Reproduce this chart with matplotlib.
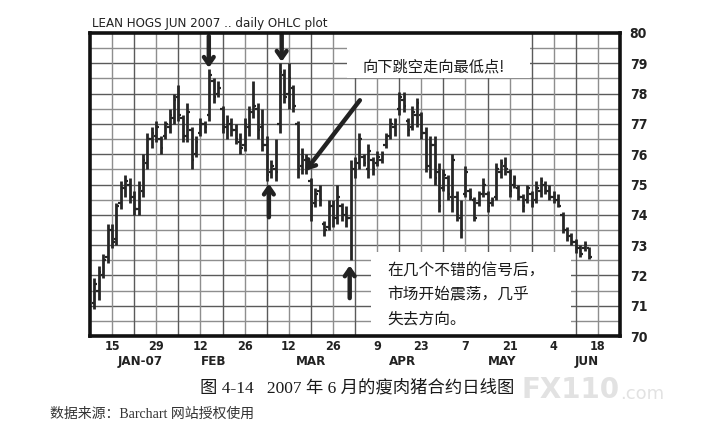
import numpy as np
import pandas as pd
import matplotlib
matplotlib.use("Agg")
import matplotlib.pyplot as plt
from matplotlib.patches import Rectangle

# ---------------- data ----------------
title = "LEAN HOGS JUN 2007 .. daily OHLC plot"
first_bar = "2007-01-09"
calendar_start = "2007-01-08"

highs = [71.9, 72.3, 72.7, 73.7, 73.7, 74.4, 75.1, 75.3, 75.2, 74.8,
         75.1, 76.0, 76.7, 76.9, 77.1, 76.6, 77.1, 77.5, 78.0, 78.3,
         77.3, 77.7, 76.9, 76.6, 77.2, 77.1, 78.8, 78.5, 78.4, 77.6,
         77.3, 77.2, 77.0, 76.7, 77.2, 77.6, 78.4, 77.7, 77.5, 76.6,
         75.8, 76.5, 79.0, 78.8, 79.0, 78.3, 77.1, 76.2, 76.0, 75.2,
         74.9, 75.0, 73.8, 74.5, 74.5, 75.0, 74.4, 74.3, 75.8, 75.9,
         76.7, 76.0, 76.35, 75.9, 76.1, 76.1, 76.7, 77.2, 77.2, 78.05,
         78.05, 77.2, 77.6, 77.85, 77.4, 76.9, 76.6, 76.6, 75.7, 75.5,
         75.3, 76.0, 74.8, 74.5, 75.6, 74.9, 74.6, 74.8, 75.2, 74.8,
         74.6, 75.7, 75.85, 75.9, 75.5, 75.3, 74.97, 74.7, 75.0, 74.8,
         75.1, 75.25, 75.1, 74.97, 74.8, 74.7, 74.1, 73.6, 73.4, 73.2,
         73.0, 73.15, 72.95]
lows = [70.9, 71.2, 71.9, 72.4, 72.9, 73.0, 74.2, 74.6, 74.4, 74.0,
        74.0, 74.6, 75.5, 76.2, 76.4, 76.0, 76.5, 76.7, 77.0, 77.1,
        76.4, 76.4, 75.5, 75.9, 76.6, 76.7, 77.1, 77.7, 77.9, 76.7,
        76.5, 76.6, 76.35, 76.0, 76.1, 76.6, 77.2, 76.5, 76.1, 75.1,
        75.2, 75.1, 76.7, 77.7, 77.5, 77.4, 75.2, 75.35, 75.35, 73.8,
        74.25, 74.3, 73.3, 73.5, 73.6, 73.7, 73.8, 73.6, 72.5, 75.2,
        75.5, 75.6, 75.2, 75.3, 75.6, 75.7, 76.2, 76.5, 76.6, 77.3,
        77.4, 76.6, 76.8, 76.9, 76.5, 75.4, 75.2, 75.0, 74.1, 74.8,
        74.5, 74.1, 73.8, 73.25, 74.6, 74.5, 73.8, 74.3, 74.6, 74.1,
        74.3, 74.5, 75.2, 75.3, 74.6, 74.9, 74.5, 74.1, 74.4, 74.25,
        74.4, 74.6, 74.7, 74.5, 74.4, 74.25, 73.4, 73.15, 73.0, 72.75,
        72.6, 72.8, 72.55]
opens = [71.1, 71.5, 72.0, 72.6, 73.5, 73.2, 74.4, 74.9, 75.0, 74.6,
         74.2, 74.8, 75.7, 76.5, 76.6, 76.5, 76.6, 76.9, 77.2, 77.9,
         77.2, 76.6, 76.8, 76.0, 76.7, 77.0, 77.3, 78.4, 78.0, 77.5,
         76.9, 77.0, 76.8, 76.4, 76.3, 76.9, 77.4, 77.5, 76.9, 76.3,
         75.4, 75.5, 77.0, 78.6, 78.0, 78.2, 77.0, 75.6, 75.8, 75.1,
         74.4, 74.8, 73.7, 73.6, 74.3, 73.9, 74.3, 74.0, 73.9, 75.5,
         75.7, 75.9, 75.5, 75.8, 75.7, 75.8, 76.3, 76.6, 76.9, 77.5,
         77.8, 77.1, 76.9, 77.3, 77.3, 76.7, 75.6, 76.3, 75.4, 74.9,
         75.2, 74.6, 74.6, 73.9, 74.7, 74.8, 74.5, 74.4, 74.7, 74.7,
         74.4, 74.6, 75.4, 75.6, 75.4, 75.0, 74.9, 74.6, 74.5, 74.7,
         74.5, 74.8, 75.0, 74.8, 74.6, 74.5, 74.0, 73.5, 73.3, 73.1,
         72.9, 72.9, 72.9]
closes = [71.7, 72.1, 72.5, 73.5, 73.1, 74.3, 74.9, 75.1, 74.6, 74.2,
          74.9, 75.8, 76.5, 76.7, 76.9, 76.2, 77.0, 77.3, 77.8, 77.3,
          76.6, 77.4, 75.8, 76.4, 77.0, 76.9, 78.6, 77.9, 78.2, 76.9,
          77.1, 76.8, 76.5, 76.2, 77.0, 77.4, 77.6, 76.8, 76.3, 75.3,
          75.6, 75.4, 78.7, 77.9, 78.5, 77.6, 75.5, 75.9, 75.5, 74.3,
          74.7, 74.5, 73.5, 74.3, 73.9, 74.6, 74.0, 73.9, 75.5, 75.7,
          76.5, 75.7, 76.1, 75.5, 75.9, 76.0, 76.6, 77.0, 77.1, 77.9,
          77.6, 76.8, 77.4, 77.7, 76.7, 75.6, 76.3, 75.2, 74.3, 75.3,
          74.7, 75.8, 74.0, 73.5, 75.4, 74.6, 73.9, 74.7, 75.0, 74.3,
          74.5, 75.5, 75.7, 75.5, 74.8, 75.2, 74.6, 74.3, 74.9, 74.4,
          74.9, 75.1, 74.8, 74.6, 74.5, 74.3, 73.5, 73.3, 73.1, 72.9,
          72.7, 73.0, 72.6]

tick_dates = ["2007-01-15", "2007-01-29", "2007-02-12", "2007-02-26",
              "2007-03-12", "2007-03-26", "2007-04-09", "2007-04-23",
              "2007-05-07", "2007-05-21", "2007-06-04", "2007-06-18"]
tick_labels = ["15", "29", "12", "26", "12", "26", "9", "23", "7", "21", "4", "18"]
month_labels = ["JAN-07", "FEB", "MAR", "APR", "MAY", "JUN"]
ytick_values = list(range(70, 81))

note_top = "向下跳空走向最低点!"
note_bottom = "在几个不错的信号后，\n市场开始震荡，几乎\n失去方向。"
caption = "图 4-14   2007 年 6 月的瘦肉猪合约日线图"
source = "数据来源：Barchart 网站授权使用"

# ---------------- positions via business-day calendar ----------------
cal = pd.bdate_range(calendar_start, "2007-07-31")
cal_index = {d: i for i, d in enumerate(cal)}
bar_dates = pd.bdate_range(first_bar, periods=len(highs))
x = np.array([cal_index[d] for d in bar_dates], dtype=float)
tick_pos = [cal_index[pd.Timestamp(d)] for d in tick_dates]
month_pos = [11.3, 28, 50, 70.8, 93.2, 112.4]

# ---------------- figure ----------------
W, H = 702, 445
fig = plt.figure(figsize=(W / 100, H / 100), dpi=100)
ax = fig.add_axes([90 / W, 1 - 336 / H, 530 / W, 303 / H])
ax.set_xlim(0, 120)
ax.set_ylim(70, 80)

lab_font = dict(family=["DejaVu Sans"], fontstretch="condensed", weight="bold")

# grid
for yv in np.arange(70.5, 80, 0.5):
    ax.axhline(yv, color="#5a5a5a" if yv % 1 == 0 else "#8e8e8e",
               lw=1.0, zorder=1)
for xv in range(5, 120, 5):
    ax.axvline(xv, color="#5a5a5a" if xv % 10 == 0 else "#8e8e8e",
               lw=1.0, zorder=1)

# white boxes behind the notes
ax.add_patch(Rectangle((58.1, 78.5), 41.6, 1.6, facecolor="white",
                       edgecolor="none", zorder=2))
ax.add_patch(Rectangle((63.6, 69.9), 45.3, 2.88, facecolor="white",
                       edgecolor="none", zorder=2))

# OHLC bars
bar_col = "#262626"
ax.vlines(x, lows, highs, color=bar_col, lw=2.0, zorder=3)
ax.hlines(opens, x - 0.55, x, color=bar_col, lw=1.6, zorder=3)
ax.hlines(closes, x, x + 0.55, color=bar_col, lw=1.6, zorder=3)

# arrows
arrow_kw = dict(arrowstyle="->,head_length=0.5,head_width=0.35",
                color="#222222", lw=3.2, shrinkA=0, shrinkB=0)
ax.annotate("", xy=(26.9, 78.85), xytext=(26.9, 79.9), arrowprops=arrow_kw, zorder=4)
ax.annotate("", xy=(43.4, 79.05), xytext=(43.4, 79.95), arrowprops=arrow_kw, zorder=4)
ax.annotate("", xy=(40.5, 75.03), xytext=(40.5, 73.92), arrowprops=arrow_kw, zorder=4)
ax.annotate("", xy=(58.8, 72.33), xytext=(58.8, 71.25), arrowprops=arrow_kw, zorder=4)
ax.annotate("", xy=(48.8, 75.45), xytext=(61.1, 77.78), arrowprops=arrow_kw, zorder=4)

# notes
cjk = ["Noto Sans CJK SC", "DejaVu Sans"]
ax.text(77.8, 78.88, note_top, family=cjk, fontsize=11, ha="center",
        va="center", color="#1a1a1a", zorder=5)
ax.text(67.3, 72.45, note_bottom, family=cjk, fontsize=11.3, ha="left",
        va="top", linespacing=1.55, color="#1a1a1a", zorder=5)

# spines
for s in ax.spines.values():
    s.set_linewidth(2.6)
    s.set_color("#111111")
    s.set_zorder(6)

# ticks
ax.yaxis.tick_right()
ax.set_yticks(ytick_values)
ax.set_yticklabels([str(v) for v in ytick_values], fontsize=10, **lab_font)
ax.set_xticks(tick_pos)
ax.set_xticklabels(tick_labels, fontsize=9, **lab_font)
ax.tick_params(axis="both", length=0, colors="#222222")
ax.tick_params(axis="x", pad=3)
ax.tick_params(axis="y", pad=7)
for mp, ml in zip(month_pos, month_labels):
    ax.text(mp, -0.083, ml, transform=ax.get_xaxis_transform(), ha="center",
            va="center", fontsize=9.5, color="#222222", **lab_font)

# title and captions
fig.text(92 / W, 1 - 24 / H, title, fontsize=9.5, ha="left", va="center",
         family=["DejaVu Sans"], fontstretch="condensed", color="#222222")
fig.text(200 / W, 1 - 388 / H, caption, fontsize=12.5, ha="left",
         va="center", family=["Liberation Serif", "Noto Sans CJK SC"],
         color="#1a1a1a")
fig.text(50 / W, 1 - 414 / H, source, fontsize=10, ha="left", va="center",
         family=["Liberation Serif", "Noto Sans CJK SC"], color="#333333")
fig.text(522 / W, 1 - 390 / H, "FX110", fontsize=20, weight="bold",
         ha="left", va="center", color="#e2e2e2", family=["DejaVu Sans"])
fig.text(620 / W, 1 - 394 / H, ".com", fontsize=13, ha="left",
         va="center", color="#e2e2e2", family=["DejaVu Sans"])

fig.savefig("out.png", dpi=100, facecolor="white")
